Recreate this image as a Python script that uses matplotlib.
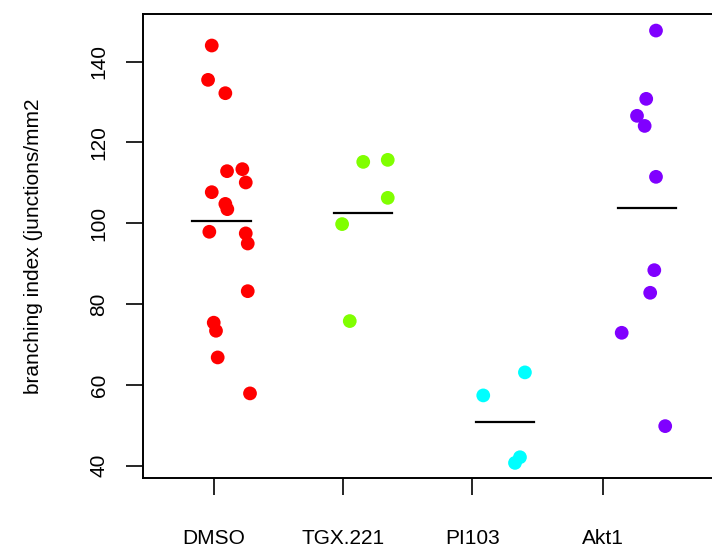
import numpy as np
import matplotlib.pyplot as plt

plt.rcParams['font.family'] = ['Liberation Sans', 'DejaVu Sans']

groups = ['DMSO', 'TGX.221', 'PI103', 'Akt1']
colors = ['#FF0000', '#80FF00', '#00FFFF', '#8000FF']  # rainbow(4)

dmso = [144.0, 135.5, 132.2, 112.9, 113.4, 110.1, 107.7, 104.8, 103.5,
        97.9, 97.5, 95.0, 83.2, 75.4, 73.4, 66.8, 57.9]
tgx221 = [115.2, 115.7, 106.3, 99.8, 75.8]
pi103 = [63.1, 57.4, 42.1, 40.7]
akt1 = [147.7, 130.8, 126.6, 124.1, 111.5, 88.4, 82.8, 72.9, 49.8]
values = [dmso, tgx221, pi103, akt1]

# horizontal jitter of each point around its group position
jitter = [
    [-0.069, -0.095, 0.027, 0.039, 0.147, 0.171, -0.069, 0.027, 0.041,
     -0.086, 0.171, 0.185, 0.185, -0.055, -0.039, -0.027, 0.201],
    [0.0, 0.173, 0.173, -0.149, -0.095],
    [0.141, -0.153, 0.106, 0.071],
    [0.066, -0.003, -0.068, -0.014, 0.066, 0.054, 0.025, -0.176, 0.131],
]
tick_pos = [0.947, 1.860, 2.769, 3.689]

fig = plt.figure(figsize=(7.12, 5.51), dpi=100)
ax = fig.add_axes([143.3 / 712, 1 - 478 / 551, 591.2 / 712, 464 / 551])

for i, (vals, jit, col) in enumerate(zip(values, jitter, colors)):
    pos = i + 1
    ax.scatter(pos + np.array(jit), vals, s=98, color=col, edgecolors='none', zorder=3)
    m = np.mean(vals)
    ax.plot([pos - 0.205, pos + 0.205], [m, m], color='black', lw=1.6, zorder=2)

ax.set_xlim(0.448, 4.62)
ax.set_ylim(36.96, 151.8)

ax.set_xticks(tick_pos)
ax.set_xticklabels(groups, fontsize=15)
ax.set_yticks([40, 60, 80, 100, 120, 140])
ax.set_yticklabels(['40', '60', '80', '100', '120', '140'], fontsize=15,
                   rotation=90, va='center')
ax.tick_params(axis='x', direction='out', length=12, width=1.2, pad=25)
ax.tick_params(axis='y', direction='out', length=12, width=1.2, pad=13)
for sp in ax.spines.values():
    sp.set_linewidth(1.4)

fig.text(34 / 712, 1 - 246 / 551, 'branching index (junctions/mm2', rotation=90,
         ha='center', va='center', fontsize=15)

fig.savefig('out.png', dpi=100)
